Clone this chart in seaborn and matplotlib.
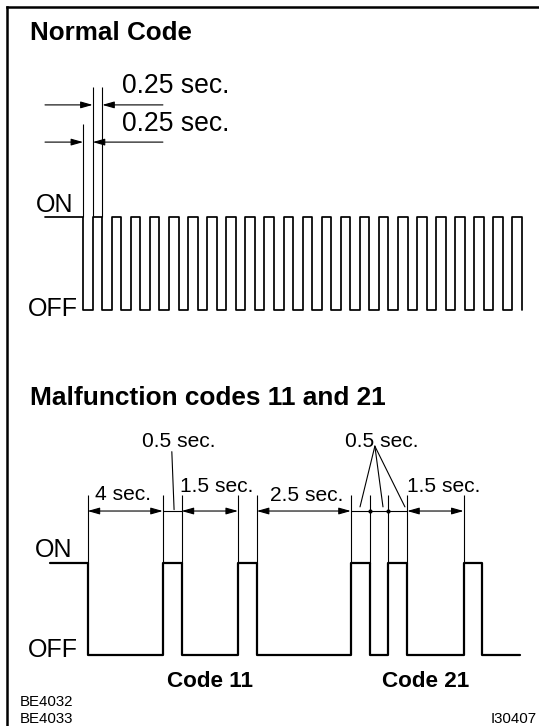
import numpy as np
import pandas as pd
import matplotlib
matplotlib.use("Agg")
import matplotlib.pyplot as plt
import seaborn as sns

# ---------------- data ----------------
NORMAL_TITLE = "Normal Code"
MALF_TITLE = "Malfunction codes 11 and 21"

# Normal code: ON lead-in, then 23 OFF/ON pulses of 0.25 s each, ending OFF
NORMAL_STATES = ["ON"] + ["OFF", "ON"] * 23 + ["OFF"]
NORMAL_DURATIONS = [1.0] + [0.25] * 46          # seconds (last state has no duration)
NORMAL_DIM_LABELS = ["0.25 sec.", "0.25 sec."]   # upper (ON pulse), lower (OFF pulse)

# Malfunction codes 11 and 21 (drawn widths; the 4 s gap is drawn compressed)
MALF_STATES = ["ON", "OFF", "ON", "OFF", "ON", "OFF", "ON", "OFF", "ON", "OFF", "ON", "OFF"]
MALF_DRAWN_DURATIONS = [1.0, 2.0, 0.5, 1.5, 0.5, 2.5, 0.5, 0.5, 0.5, 1.5, 0.5, 1.0]
MALF_DIM_LABELS = ["4 sec.", "1.5 sec.", "2.5 sec.", "1.5 sec."]
MALF_DIM_EDGES = [(1, 2), (3, 4), (5, 6), (9, 10)]
MALF_SHORT_LABELS = ["0.5 sec.", "0.5 sec."]
MALF_SHORT_EDGES = [(2, 3), (6, 9)]
MALF_DOT_EDGES = [7, 8]
CODE_LABELS = ["Code 11", "Code 21"]
LEVEL_LABELS = ["ON", "OFF"]
REF_LABELS = ["BE4032", "BE4033"]
FIG_ID = "I30407"

LEVEL = {"ON": 1, "OFF": 0}

# ---------------- figure ----------------
sns.set_style("white")
plt.rcParams["font.family"] = ["Liberation Sans", "DejaVu Sans"]

W, H = 539, 726
fig = plt.figure(figsize=(W / 100, H / 100), dpi=100)
fig.patch.set_facecolor("white")

# frame (top and left border only; axes extends past the right/bottom edges)
axf = fig.add_axes([6.5 / W, -0.05, 1.1, 1.05 - 6.5 / H])
axf.patch.set_visible(False)
axf.set_xticks([]); axf.set_yticks([])
for side in ["right", "bottom"]:
    axf.spines[side].set_visible(False)
for side in ["top", "left"]:
    axf.spines[side].set_color("black")
    axf.spines[side].set_linewidth(1.8)


def place(x0px, sx, y_off, y_on, xlim, ylim):
    sy = y_off - y_on
    left = x0px + xlim[0] * sx
    right = x0px + xlim[1] * sx
    top = y_on - (ylim[1] - 1) * sy
    bottom = y_off - ylim[0] * sy
    ax = fig.add_axes([left / W, 1 - bottom / H, (right - left) / W, (bottom - top) / H])
    ax.set_xlim(*xlim)
    ax.set_ylim(*ylim)
    ax.axis("off")
    ax.patch.set_visible(False)
    return ax


def ftext(xpx, ypx, s, size_px, bold=False, ha="left"):
    fig.text(xpx / W, 1 - ypx / H, s, ha=ha, va="baseline",
             fontsize=size_px * 0.72, fontweight="bold" if bold else "normal",
             color="black")


def signal_frame(states, durations):
    t = np.concatenate([[0.0], np.cumsum(durations)])
    lv = [LEVEL[s] for s in states]
    if len(lv) < len(t):
        lv = lv + [lv[-1]]
    return pd.DataFrame({"t": t, "level": lv})


ARW = dict(color="black", lw=0.8, shrinkA=0, shrinkB=0, mutation_scale=12)


def arrow(ax, x_from, x_to, y, style="-|>"):
    ax.annotate("", xy=(x_to, y), xytext=(x_from, y), annotation_clip=False,
                arrowprops=dict(arrowstyle=f"{style},head_length=0.6,head_width=0.17", **ARW))


# ---------------- Normal code ----------------
axn = place(45, 477 / 12.5, 309.5, 216.5, (-1.2, 13.2), (-0.4, 2.7))
dfn = signal_frame(NORMAL_STATES, NORMAL_DURATIONS)
sns.lineplot(data=dfn, x="t", y="level", drawstyle="steps-post", color="black",
             lw=1.25, estimator=None, sort=False, ax=axn)
en = dfn["t"].to_numpy()
# extension lines
axn.vlines([en[1]], 1, 2.0, color="black", lw=0.8)
axn.vlines([en[2], en[3]], 1, 2.39, color="black", lw=0.8)
# dimension arrows (outside-in)
y_up, y_lo = 2.20, 1.80
x_right = 3.09
arrow(axn, 0.0, en[2], y_up)
arrow(axn, x_right, en[3], y_up)
arrow(axn, 0.0, en[1], y_lo)
arrow(axn, x_right, en[2], y_lo)

ftext(30, 40, NORMAL_TITLE, 26, bold=True)
ftext(122, 93, NORMAL_DIM_LABELS[0], 26.5)
ftext(122, 131, NORMAL_DIM_LABELS[1], 26.5)
ftext(36, 212, LEVEL_LABELS[0], 25)
ftext(28, 316, LEVEL_LABELS[1], 25)

# ---------------- Malfunction codes ----------------
axm = place(50, 470 / 12.5, 655, 563, (-1.2, 13.2), (-0.4, 2.5))
dfm = signal_frame(MALF_STATES, MALF_DRAWN_DURATIONS)
sns.lineplot(data=dfm, x="t", y="level", drawstyle="steps-post", color="black",
             lw=1.6, estimator=None, sort=False, ax=axm)
em = dfm["t"].to_numpy()
y_ext = 1.74
y_dim = 1.565
axm.vlines(em[1:11], 1, y_ext, color="black", lw=0.8)
for (a, b) in MALF_DIM_EDGES:
    arrow(axm, em[a], em[b], y_dim, style="<|-|>")
for (a, b) in MALF_SHORT_EDGES:
    axm.hlines(y_dim, em[a], em[b], color="black", lw=0.8)
sns.scatterplot(x=em[MALF_DOT_EDGES], y=[y_dim] * len(MALF_DOT_EDGES), color="black",
                s=9, linewidth=0, ax=axm, clip_on=False)
# leaders for 0.5 sec labels
axm.plot([3.24, 3.30], [2.21, 1.58], color="black", lw=0.8, clip_on=False)
apex = (8.64, 2.27)
for tx in [8.245, 8.856, 9.44]:
    axm.plot([apex[0], tx], [apex[1], 1.61], color="black", lw=0.8, clip_on=False)

ftext(30, 405, MALF_TITLE, 26.2, bold=True)
ftext(95, 500, MALF_DIM_LABELS[0], 21)
ftext(180, 492, MALF_DIM_LABELS[1], 21)
ftext(270, 501, MALF_DIM_LABELS[2], 21)
ftext(407, 492, MALF_DIM_LABELS[3], 21)
ftext(142, 447, MALF_SHORT_LABELS[0], 21)
ftext(345, 447, MALF_SHORT_LABELS[1], 21)
ftext(35, 557, LEVEL_LABELS[0], 25)
ftext(28, 657, LEVEL_LABELS[1], 25)
ftext(167, 687, CODE_LABELS[0], 22.5, bold=True)
ftext(382, 687, CODE_LABELS[1], 22.5, bold=True)
ftext(20, 706, REF_LABELS[0], 15)
ftext(20, 723, REF_LABELS[1], 15)
ftext(537, 723, FIG_ID, 15, ha="right")

for ax in fig.axes:
    for ln in ax.lines:
        ln.set_clip_on(False)

fig.savefig("out.png", dpi=100, facecolor="white")
